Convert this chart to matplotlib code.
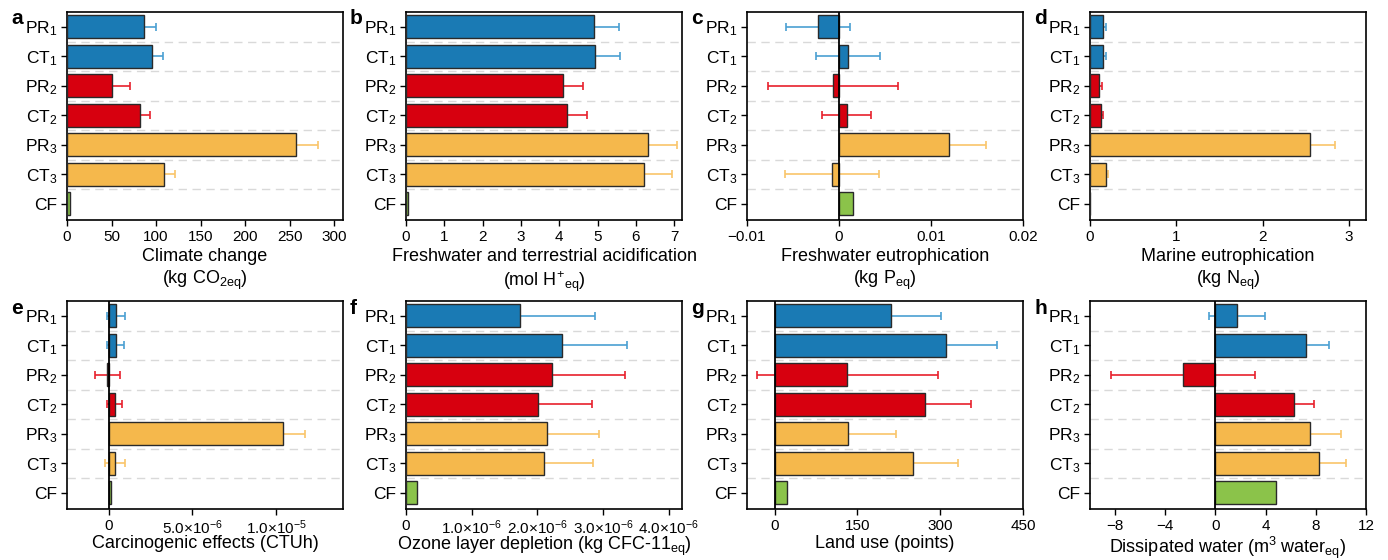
import numpy as np
import matplotlib
matplotlib.use('Agg')
import matplotlib.pyplot as plt

plt.rcParams['font.family'] = ['Liberation Sans', 'DejaVu Sans']
plt.rcParams['mathtext.fontset'] = 'custom'
plt.rcParams['mathtext.rm'] = 'Liberation Sans'
plt.rcParams['mathtext.it'] = 'Liberation Sans'
plt.rcParams['mathtext.default'] = 'regular'

# categories, top to bottom
labels = ['PR$_1$', 'CT$_1$', 'PR$_2$', 'CT$_2$', 'PR$_3$', 'CT$_3$', 'CF']

# values and symmetric errors per indicator
climate = [87, 96, 50, 82.5, 257, 108.7, 3.7]
climate_err = [13, 12, 21, 10.5, 25, 12.3, 0]

acid = [4.90, 4.92, 4.09, 4.19, 6.31, 6.22, 0.06]
acid_err = [0.65, 0.65, 0.54, 0.54, 0.75, 0.73, 0]

fresh = [-0.0023, 0.00098, -0.00065, 0.00083, 0.0120, -0.00075, 0.0015]
fresh_err = [0.0035, 0.0035, 0.00705, 0.0027, 0.004, 0.0051, 0]

marine = [0.155, 0.155, 0.11, 0.125, 2.556, 0.18, 0.002]
marine_err = [0.025, 0.025, 0.03, 0.023, 0.285, 0.03, 0]

carc = [0.44e-6, 0.40e-6, -0.08e-6, 0.36e-6, 10.44e-6, 0.38e-6, 0.14e-6]
carc_err = [0.52e-6, 0.5e-6, 0.72e-6, 0.44e-6, 1.3e-6, 0.6e-6, 0]

ozone = [1.74e-6, 2.37e-6, 2.22e-6, 2.015e-6, 2.14e-6, 2.10e-6, 0.17e-6]
ozone_err = [1.13e-6, 1.0e-6, 1.12e-6, 0.81e-6, 0.79e-6, 0.74e-6, 0]

land = [210, 311, 131.5, 273, 133, 251, 23]
land_err = [92, 92, 164, 83, 87, 81, 0]

water = [1.73, 7.25, -2.6, 6.26, 7.54, 8.26, 4.86]
water_err = [2.25, 1.78, 5.73, 1.57, 2.44, 2.15, 0]

bar_colors = ['#1a7ab4', '#1a7ab4', '#d7000f', '#d7000f', '#f5b84c', '#f5b84c', '#8bc34a']
err_colors = ['#4a9fd2', '#4a9fd2', '#e8202c', '#e8202c', '#f9c56a', '#f9c56a', '#8bc34a']

panels = [
    ('a', climate, climate_err, (0, 310), [0, 50, 100, 150, 200, 250, 300],
     ['0', '50', '100', '150', '200', '250', '300'],
     'Climate change\n(kg CO$_{2eq}$)', False),
    ('b', acid, acid_err, (0, 7.2), [0, 1, 2, 3, 4, 5, 6, 7],
     ['0', '1', '2', '3', '4', '5', '6', '7'],
     'Freshwater and terrestrial acidification\n(mol H$^{+}$$_{eq}$)', False),
    ('c', fresh, fresh_err, (-0.01, 0.02), [-0.01, 0, 0.01, 0.02],
     ['\u22120.01', '0', '0.01', '0.02'],
     'Freshwater eutrophication\n(kg P$_{eq}$)', True),
    ('d', marine, marine_err, (0, 3.2), [0, 1, 2, 3],
     ['0', '1', '2', '3'],
     'Marine eutrophication\n(kg N$_{eq}$)', False),
    ('e', carc, carc_err, (-2.5e-6, 1.4e-5), [0, 5e-6, 1e-5],
     ['0', '5.0\u00d710$^{-6}$', '1.0\u00d710$^{-5}$'],
     'Carcinogenic effects (CTUh)', True),
    ('f', ozone, ozone_err, (0, 4.2e-6), [0, 1e-6, 2e-6, 3e-6, 4e-6],
     ['0', '1.0\u00d710$^{-6}$', '2.0\u00d710$^{-6}$', '3.0\u00d710$^{-6}$', '4.0\u00d710$^{-6}$'],
     'Ozone layer depletion (kg CFC-11$_{eq}$)', False),
    ('g', land, land_err, (-50, 450), [0, 150, 300, 450],
     ['0', '150', '300', '450'],
     'Land use (points)', True),
    ('h', water, water_err, (-10, 12), [-8, -4, 0, 4, 8, 12],
     ['\u22128', '\u22124', '0', '4', '8', '12'],
     'Dissipated water (m$^3$ water$_{eq}$)', True),
]

W, H = 1388, 560
fig = plt.figure(figsize=(W / 100, H / 100), dpi=100)

lefts = [67, 406, 747, 1090]
tops = [12, 301]
aw, ah = 276, 208

y = np.arange(len(labels))
for i, (letter, vals, errs, xlim, xt, xtl, xlab, zero) in enumerate(panels):
    row, col = divmod(i, 4)
    l, t = lefts[col], tops[row]
    ax = fig.add_axes([l / W, (H - t - ah) / H, aw / W, ah / H])
    for k in range(len(labels)):
        if errs[k] > 0:
            ax.errorbar(vals[k], y[k], xerr=errs[k], fmt='none', ecolor=err_colors[k],
                        elinewidth=1.2, capsize=3, capthick=1.2, zorder=2)
    ax.barh(y, vals, height=0.78, color=bar_colors, edgecolor='#2a2a2a',
            linewidth=1.0, zorder=3)
    for yy in np.arange(0.5, len(labels) - 1, 1.0):
        ax.axhline(yy, color='#d9d9d9', lw=1.0, ls=(0, (6, 4)), zorder=1)
    if zero:
        ax.axvline(0, color='black', lw=1.3, zorder=4)
    ax.set_xlim(*xlim)
    ax.set_ylim(6.55, -0.5)
    ax.set_yticks(y)
    ax.set_yticklabels(labels, fontsize=12.5)
    ax.set_xticks(xt)
    ax.set_xticklabels(xtl, fontsize=11)
    ax.set_xlabel(xlab, fontsize=13, linespacing=1.25)
    ax.xaxis.set_label_coords(0.5, -(28 if row == 0 else 26) / ah)
    ax.tick_params(axis='both', direction='out', length=4, width=1, pad=3)
    for s in ax.spines.values():
        s.set_linewidth(1.2)
    fig.text((l - 56) / W, 1 - (t + 7) / H, letter, fontsize=15, fontweight='bold',
             ha='left', va='center')

fig.savefig('out.png', dpi=100)
